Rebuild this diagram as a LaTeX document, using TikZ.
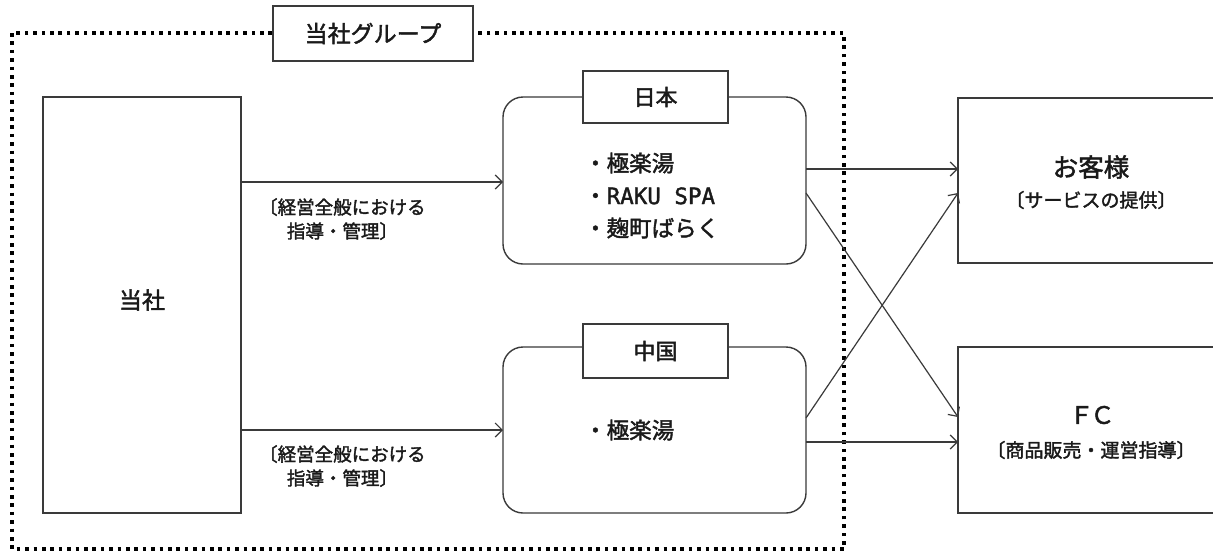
\documentclass[tikz,border=0pt]{standalone}
\usepackage{fontspec}
\newfontfamily\jp[FakeBold=1.8]{Noto Sans CJK JP}
\newfontfamily\jpmono[FakeBold=1.6]{DejaVu Sans Mono}
\usetikzlibrary{arrows.meta}
\definecolor{ln}{HTML}{3A3A3A}
\definecolor{tx}{HTML}{1A1A1A}
\tikzset{
  box/.style={draw=ln,line width=1.4pt,fill=white},
  rbox/.style={draw=ln,line width=1.4pt,rounded corners=20pt},
  conn/.style={draw=ln,line width=1.2pt,-{Straight Barb[length=7pt,width=14pt,line width=1.2pt]}},
  dotline/.style={draw=black,line width=3.6pt,dash pattern=on 3.6pt off 4.8pt},
  lbl/.style={text=tx,font=\jp\fontsize{18.5}{24}\selectfont,align=left,inner sep=0pt},
}
\begin{document}
\begin{tikzpicture}[x=1pt,y=-1pt]
\useasboundingbox (0,0) rectangle (1213,552);
\fill[white] (0,0) rectangle (1213,552);
% group dotted frame
\draw[dotline] (12,33) -- (12,549) -- (844,549) -- (844,33) -- cycle;
\node[box,minimum width=200pt,minimum height=55pt,text=tx,font=\jp\fontsize{23}{26}\selectfont] (grp) at (373,33.5) {当社グループ};
% company box
\draw[box] (43,97) rectangle (241,513);
\node[text=tx,font=\jp\fontsize{23}{26}\selectfont] (co) at (142,300) {当社};
\coordinate (coTop) at (241,182);
\coordinate (coBot) at (241,430);
% Japan
\draw[rbox] (503,97) rectangle (806,264);
\coordinate (jpIn) at (503,182);
\coordinate (jpA) at (806,169);
\coordinate (jpB) at (806,193);
\node[box,minimum width=145pt,minimum height=52pt,text=tx,font=\jp\fontsize{22}{24}\selectfont] (jp) at (655.5,97) {日本};
\node[text=tx,font=\jp\fontsize{22.5}{32.5}\selectfont,align=left,anchor=west,inner sep=0pt] (jplist) at (584,195.5) {・極楽湯\\・{\jpmono RAKU SPA}\\・麹町ばらく};
% China
\draw[rbox] (503,347) rectangle (806,513);
\coordinate (cnIn) at (503,430);
\coordinate (cnA) at (806,418);
\coordinate (cnB) at (806,442);
\node[box,minimum width=145pt,minimum height=54pt,text=tx,font=\jp\fontsize{22}{24}\selectfont] (cn) at (655.5,351) {中国};
\node[text=tx,font=\jp\fontsize{22.5}{26}\selectfont,anchor=west,inner sep=0pt] (cnlist) at (584,430) {・極楽湯};
% right boxes
\begin{scope}
\clip (0,0) rectangle (1213,552);
\draw[box] (958,98) rectangle (1230,263);
\draw[box] (958,347) rectangle (1230,513);
\end{scope}
\coordinate (cuA) at (958,169);
\coordinate (cuB) at (958,193);
\coordinate (fcA) at (958,417);
\coordinate (fcB) at (958,442);
\node[text=tx,font=\jp\fontsize{25.5}{28}\selectfont] (cu) at (1091,167) {お客様};
\node[text=tx,font=\jp\fontsize{19}{22}\selectfont] (cusub) at (1091,200) {〔サービスの提供〕};
\node[text=tx,font=\jp\fontsize{24}{28}\selectfont] (fc) at (1092,415) {Ｆ\hspace{-3pt}Ｃ};
\node[text=tx,font=\jp\fontsize{19}{22}\selectfont] (fcsub) at (1091,450) {〔商品販売・運営指導〕};
% connectors
\draw[conn] (coTop) -- (jpIn);
\draw[conn] (coBot) -- (cnIn);
\node[lbl,anchor=north west] (l1) at (259,198) {〔経営全般における\\\hspace*{1.5em}指導・管理〕};
\node[lbl,anchor=north west] (l2) at (259,445) {〔経営全般における\\\hspace*{1.5em}指導・管理〕};
\draw[conn] (jpA) -- (cuA);
\draw[conn] (jpB) -- (fcA);
\draw[conn] (cnA) -- (cuB);
\draw[conn] (cnB) -- (fcB);
\end{tikzpicture}
\end{document}
